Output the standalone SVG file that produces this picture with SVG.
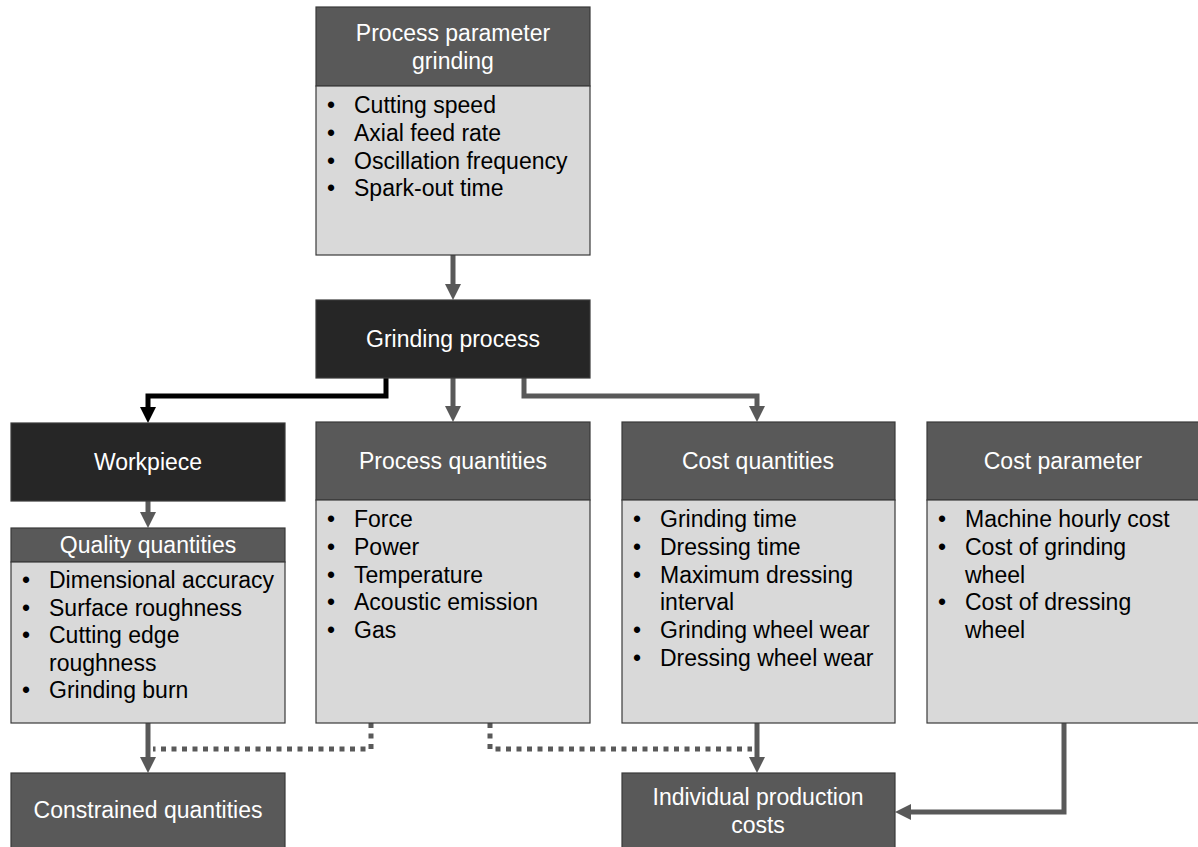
<svg xmlns="http://www.w3.org/2000/svg" width="1198" height="847" viewBox="0 0 1198 847">
  <style>
    text { font-family: "Liberation Sans", Arial, sans-serif; font-size: 23px; }
    .hdr { fill: #595959; stroke: #3a3a3a; stroke-width: 1.2; }
    .body { fill: #d9d9d9; stroke: #3a3a3a; stroke-width: 1.2; }
    .blk { fill: #262626; stroke: #3a3a3a; stroke-width: 1.2; }
    .ttl { fill: #ffffff; text-anchor: middle; }
    .item { fill: #000000; }
    .link { fill: none; stroke: #595959; stroke-width: 5; }
    .link-blk { fill: none; stroke: #000000; stroke-width: 5; }
    .dots { fill: none; stroke: #595959; stroke-width: 5; stroke-dasharray: 5 5.5; }
  </style>
  <defs>
    <marker id="arr" markerUnits="userSpaceOnUse" viewBox="0 0 16 16" markerWidth="16" markerHeight="16" refX="1" refY="8" orient="auto">
      <path d="M0,0 L16,8 L0,16 z" fill="#595959"/>
    </marker>
    <marker id="arr-blk" markerUnits="userSpaceOnUse" viewBox="0 0 16 16" markerWidth="16" markerHeight="16" refX="1" refY="8" orient="auto">
      <path d="M0,0 L16,8 L0,16 z" fill="#000000"/>
    </marker>
  </defs>

  <!-- connectors -->
  <g id="connectors">
    <path class="link" d="M453,255 V285" marker-end="url(#arr)"/>
    <path class="link-blk" d="M386,378 V396 H148 V408" marker-end="url(#arr-blk)"/>
    <path class="link" d="M453,378 V407" marker-end="url(#arr)"/>
    <path class="link" d="M524,378 V396 H757 V407" marker-end="url(#arr)"/>
    <path class="link" d="M148,501 V513" marker-end="url(#arr)"/>
    <path class="link" d="M148,723 V758" marker-end="url(#arr)"/>
    <path class="link" d="M757,723 V758" marker-end="url(#arr)"/>
    <path class="link" d="M1064,723 V812 H910" marker-end="url(#arr)"/>
    <path class="dots" d="M371,723 V749 H153"/>
    <path class="dots" d="M490,723 V749 H752"/>
  </g>

  <!-- process parameter grinding -->
  <g id="process-parameter">
    <rect class="hdr" x="316" y="7" width="274" height="79"/>
    <rect class="body" x="316" y="86" width="274" height="169"/>
    <text class="ttl" x="453" y="41">Process parameter</text>
    <text class="ttl" x="453" y="69">grinding</text>
    <g class="item">
      <text x="327" y="113">•</text><text x="354" y="113">Cutting speed</text>
      <text x="327" y="141">•</text><text x="354" y="141">Axial feed rate</text>
      <text x="327" y="168.5">•</text><text x="354" y="168.5">Oscillation frequency</text>
      <text x="327" y="196">•</text><text x="354" y="196">Spark-out time</text>
    </g>
  </g>

  <!-- grinding process -->
  <g id="grinding-process">
    <rect class="blk" x="316" y="300" width="274" height="78"/>
    <text class="ttl" x="453" y="347">Grinding process</text>
  </g>

  <!-- workpiece -->
  <g id="workpiece">
    <rect class="blk" x="11" y="423" width="274" height="78"/>
    <text class="ttl" x="148" y="470">Workpiece</text>
  </g>

  <!-- quality quantities -->
  <g id="quality-quantities">
    <rect class="hdr" x="11" y="528" width="274" height="34"/>
    <rect class="body" x="11" y="562" width="274" height="161"/>
    <text class="ttl" x="148" y="553">Quality quantities</text>
    <g class="item">
      <text x="22" y="588">•</text><text x="49" y="588">Dimensional accuracy</text>
      <text x="22" y="616">•</text><text x="49" y="616">Surface roughness</text>
      <text x="22" y="643">•</text><text x="49" y="643">Cutting edge</text>
      <text x="49" y="671">roughness</text>
      <text x="22" y="698">•</text><text x="49" y="698">Grinding burn</text>
    </g>
  </g>

  <!-- process quantities -->
  <g id="process-quantities">
    <rect class="hdr" x="316" y="422" width="274" height="78"/>
    <rect class="body" x="316" y="500" width="274" height="223"/>
    <text class="ttl" x="453" y="469">Process quantities</text>
    <g class="item">
      <text x="327" y="527">•</text><text x="354" y="527">Force</text>
      <text x="327" y="555">•</text><text x="354" y="555">Power</text>
      <text x="327" y="583">•</text><text x="354" y="583">Temperature</text>
      <text x="327" y="610">•</text><text x="354" y="610">Acoustic emission</text>
      <text x="327" y="638">•</text><text x="354" y="638">Gas</text>
    </g>
  </g>

  <!-- cost quantities -->
  <g id="cost-quantities">
    <rect class="hdr" x="622" y="422" width="273" height="78"/>
    <rect class="body" x="622" y="500" width="273" height="223"/>
    <text class="ttl" x="758" y="469">Cost quantities</text>
    <g class="item">
      <text x="633" y="527">•</text><text x="660" y="527">Grinding time</text>
      <text x="633" y="555">•</text><text x="660" y="555">Dressing time</text>
      <text x="633" y="583">•</text><text x="660" y="583">Maximum dressing</text>
      <text x="660" y="610">interval</text>
      <text x="633" y="638">•</text><text x="660" y="638">Grinding wheel wear</text>
      <text x="633" y="666">•</text><text x="660" y="666">Dressing wheel wear</text>
    </g>
  </g>

  <!-- cost parameter -->
  <g id="cost-parameter">
    <rect class="hdr" x="927" y="422" width="276" height="78"/>
    <rect class="body" x="927" y="500" width="276" height="223"/>
    <text class="ttl" x="1063" y="469">Cost parameter</text>
    <g class="item">
      <text x="938" y="527">•</text><text x="965" y="527">Machine hourly cost</text>
      <text x="938" y="555">•</text><text x="965" y="555">Cost of grinding</text>
      <text x="965" y="583">wheel</text>
      <text x="938" y="610">•</text><text x="965" y="610">Cost of dressing</text>
      <text x="965" y="638">wheel</text>
    </g>
  </g>

  <!-- constrained quantities -->
  <g id="constrained-quantities">
    <rect class="hdr" x="11" y="773" width="274" height="80"/>
    <text class="ttl" x="148" y="818">Constrained quantities</text>
  </g>

  <!-- individual production costs -->
  <g id="individual-production-costs">
    <rect class="hdr" x="622" y="773" width="273" height="80"/>
    <text class="ttl" x="758" y="805">Individual production</text>
    <text class="ttl" x="758" y="833">costs</text>
  </g>
</svg>
